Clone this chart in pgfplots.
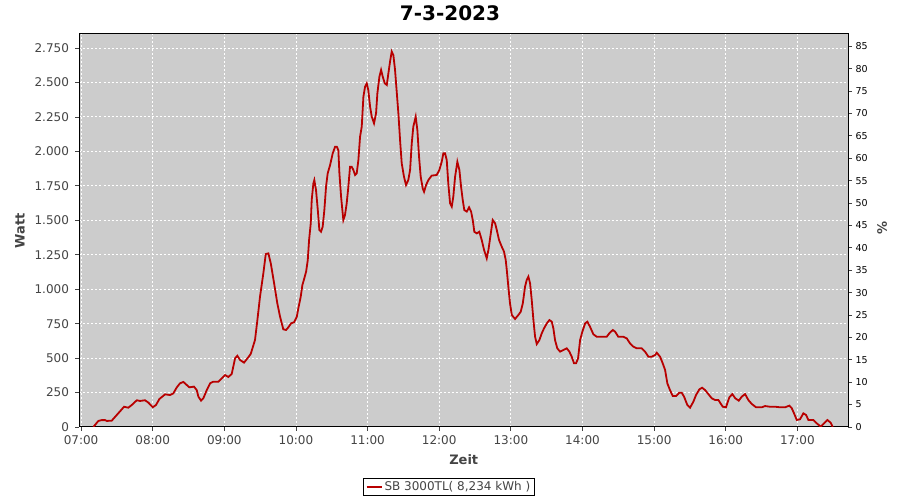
\documentclass[border=0pt]{standalone}
\usepackage{fontspec}
\setmainfont{DejaVu Sans}
\usepackage{pgfplots}
\pgfplotsset{compat=1.18}
\definecolor{bgc}{RGB}{204,204,204}
\definecolor{linec}{RGB}{184,0,0}
\definecolor{tickc}{RGB}{68,68,68}
\begin{document}
\begin{tikzpicture}[x=1pt,y=1pt]
\useasboundingbox (0,0) rectangle (900,500);
\node[font=\fontsize{20}{24}\selectfont\bfseries, text=black] at (450,487) {7-3-2023};
\begin{axis}[
  at={(79.5pt,73pt)}, anchor=south west,
  width=768.5pt, height=393pt, scale only axis,
  xmin=-1.3, xmax=642.4, ymin=0, ymax=2852,
  axis background/.style={fill=bgc},
  axis line style={black, line width=1pt},
  xtick={0,60,120,180,240,300,360,420,480,540,600},
  xticklabels={07:00,08:00,09:00,10:00,11:00,12:00,13:00,14:00,15:00,16:00,17:00},
  ytick={0,250,...,2750},
  scaled y ticks=false,
  /pgf/number format/.cd, 1000 sep={.}, assume math mode=true, /pgfplots/.cd,
  tick align=outside, major tick length=4pt,
  tick style={tickc, line width=0.8pt},
  xtick pos=bottom, ytick pos=left,
  ticklabel style={font=\fontsize{12}{14}\selectfont, text=tickc},
  yticklabel style={xshift=-3pt},
  xticklabel style={yshift=-1pt},
  grid=major,
  grid style={white, line width=0.9pt, dash pattern=on 2pt off 2pt},
  xlabel={Zeit}, ylabel={Watt},
  label style={font=\fontsize{13}{15}\selectfont\bfseries, text=tickc},
  xlabel style={at={(axis description cs:0.5,-0.084)}, anchor=center},
  ylabel style={at={(axis description cs:-0.0774,0.5)}, anchor=center},
  legend style={at={(axis description cs:0.4808,-0.1527)}, anchor=center,
    draw=black, fill=white, font=\fontsize{12}{14}\selectfont, text=tickc,
    inner xsep=2pt, inner ysep=1pt, line width=0.8pt},
  legend image code/.code={\draw[linec, line width=1.8pt] (0pt,0pt) -- (15pt,0pt);},
]
\addplot[linec, line width=1.8pt] table[x=m, y=W] {
m W
10.3 0
14.5 44
17.3 50
20.1 50
21.5 44
25.7 46
29.9 87
34.1 128
36.0 147
39.6 140
42.5 160
46.7 194
49.4 189
53.6 194
56.4 177
60.1 143
62.8 160
65.6 203
70.4 237
74.5 232
77.3 244
80.2 288
82.9 317
85.7 327
88.5 305
90.7 288
94.6 293
96.9 268
98.3 220
100.5 191
102.4 208
105.3 268
108.1 317
110.8 329
115.0 329
117.9 353
120.6 377
123.4 363
126.2 385
129.0 498
130.9 517
133.2 486
136.5 467
140.1 506
142.1 530
145.7 631
147.7 776
149.9 946
152.7 1115
154.7 1255
156.9 1260
158.9 1188
161.7 1043
164.4 897
166.7 800
169.4 709
171.7 704
173.6 723
175.9 752
178.4 760
180.7 800
182.0 861
184.0 946
185.4 1030
187.0 1079
188.5 1127
189.9 1212
191.0 1357
192.4 1478
193.2 1647
194.6 1768
195.4 1792
196.8 1720
198.3 1575
199.6 1430
201.0 1417
202.4 1454
203.8 1575
205.2 1744
206.6 1841
208.6 1901
210.8 1986
212.8 2034
214.2 2034
215.5 2010
216.4 1841
217.8 1671
219.7 1502
221.1 1539
222.5 1623
223.9 1744
225.3 1889
226.7 1889
228.1 1865
229.5 1829
230.9 1841
232.3 1937
233.7 2107
235.1 2179
236.5 2397
237.9 2469
239.3 2494
240.6 2445
242.1 2324
243.5 2252
245.4 2204
247.1 2276
248.2 2421
249.9 2542
251.3 2591
252.7 2542
254.4 2494
256.1 2482
257.4 2566
258.8 2651
260.2 2724
261.6 2699
263.0 2591
264.4 2433
265.8 2276
267.2 2083
268.6 1913
270.5 1816
272.2 1756
274.1 1792
275.6 1865
277.0 2059
278.3 2179
280.3 2252
281.7 2155
283.1 1961
284.5 1816
286.2 1731
287.3 1707
289.0 1756
290.9 1792
293.7 1824
297.9 1829
300.1 1865
302.1 1925
303.5 1986
304.9 1986
306.3 1937
307.6 1768
309.1 1623
310.5 1599
311.8 1671
313.3 1816
315.2 1925
316.9 1865
318.3 1744
319.7 1647
321.0 1575
323.1 1563
325.0 1594
326.7 1563
328.1 1502
329.4 1417
331.4 1405
333.6 1417
335.6 1357
337.6 1284
339.8 1224
341.2 1284
343.2 1405
344.8 1502
346.8 1478
348.2 1430
350.1 1357
352.4 1308
354.3 1272
355.7 1212
356.6 1139
357.9 1018
359.3 897
360.8 813
363.5 784
366.3 813
368.3 837
370.0 897
371.9 1018
373.3 1067
374.7 1091
376.1 1043
377.5 921
378.9 776
380.3 655
381.7 602
383.9 631
385.9 680
387.8 716
390.1 752
392.3 776
394.3 764
395.6 716
397.0 631
398.9 571
401.2 547
404.0 559
406.8 571
409.0 547
411.0 510
412.9 462
414.6 462
416.3 498
418.0 631
419.9 692
422.2 752
424.1 764
426.3 728
429.1 673
431.9 655
436.1 655
440.3 655
442.5 680
445.4 704
447.3 692
450.0 655
454.2 655
457.1 643
459.8 607
462.6 583
465.4 571
469.6 571
472.4 547
475.2 510
478.0 510
480.8 522
482.2 539
485.0 510
487.2 462
489.2 414
491.1 316
493.3 268
495.6 225
498.4 225
501.1 249
503.1 249
505.1 220
507.8 160
510.1 140
512.9 184
515.1 232
517.9 273
520.2 285
522.7 268
525.4 239
528.3 208
531.0 196
533.8 196
537.5 147
540.2 143
543.0 215
545.5 239
548.0 208
550.9 191
553.4 220
556.2 239
558.9 196
561.8 167
565.4 143
570.2 143
572.9 152
577.1 147
581.3 147
585.5 143
589.7 143
593.3 155
595.3 136
597.2 99
599.5 51
602.2 56
605.0 99
607.3 87
609.2 51
613.4 51
616.2 27
619.6 2
622.3 27
625.1 51
627.9 31
629.6 0
};
\addlegendentry{SB 3000TL( 8,234 kWh )}
\end{axis}
\begin{axis}[
  at={(79.5pt,73pt)}, anchor=south west,
  width=768.5pt, height=393pt, scale only axis,
  xmin=-1.3, xmax=642.4, ymin=0, ymax=87.75,
  axis x line=none, axis y line*=right,
  axis line style={black, line width=1pt},
  ytick={0,5,...,85},
  /pgf/number format/assume math mode=true,
  tick align=outside, major tick length=4pt,
  tick style={tickc, line width=0.8pt},
  ticklabel style={font=\fontsize{9.5}{11}\selectfont, text=black},
  ylabel={\%},
  label style={font=\fontsize{13}{15}\selectfont\bfseries, text=tickc},
  ylabel style={at={(axis description cs:1.0443,0.506)}, anchor=center},
]
\end{axis}
\end{tikzpicture}
\end{document}
